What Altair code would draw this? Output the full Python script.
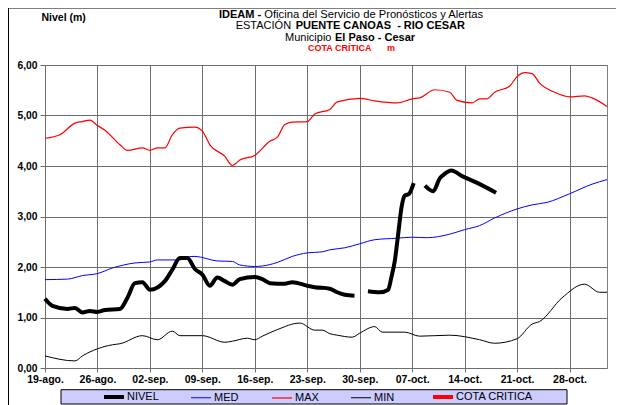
import altair as alt
import pandas as pd

# ---------------- data ----------------
etiquetas_x = ["19-ago.", "26-ago.", "02-sep.", "09-sep.", "16-sep.", "23-sep.",
               "30-sep.", "07-oct.", "14-oct.", "21-oct.", "28-oct."]
dias_ticks = [0, 7, 14, 21, 28, 35, 42, 49, 56, 63, 70]
series = ["NIVEL", "MED", "MAX", "MIN", "COTA CRITICA"]
colores = ["#000000", "#0000ff", "#ff0000", "#000000", "#ff0000"]
grosores = [4, 1, 1.2, 1, 4]

max_dias = [0, 2, 4, 5, 6, 7, 8, 10, 11, 13, 14, 15, 16, 17, 18, 20, 21, 22, 24, 25, 26,
            28, 30, 31, 32, 33, 35, 36, 38, 39, 42, 44, 47, 49, 50, 52, 54, 55, 57, 58,
            59, 60, 62, 63, 64, 65, 66, 68, 70, 72, 73, 75]
max_vals = [4.55, 4.62, 4.85, 4.88, 4.91, 4.80, 4.71, 4.42, 4.31, 4.36, 4.31, 4.36, 4.36,
            4.62, 4.75, 4.77, 4.69, 4.42, 4.19, 4.01, 4.12, 4.21, 4.49, 4.57, 4.82, 4.87,
            4.88, 5.03, 5.12, 5.27, 5.34, 5.29, 5.25, 5.33, 5.35, 5.51, 5.46, 5.30, 5.25,
            5.33, 5.33, 5.46, 5.58, 5.77, 5.85, 5.83, 5.64, 5.46, 5.37, 5.39, 5.35, 5.18]

med_dias = [0, 3, 5, 7, 9, 12, 14, 15, 18, 19, 20, 23, 25, 26, 28, 29, 31, 33, 35, 37, 38,
            40, 42, 44, 47, 49, 51, 54, 56, 58, 60, 63, 65, 67, 70, 73, 75]
med_vals = [1.75, 1.76, 1.83, 1.87, 1.98, 2.08, 2.10, 2.14, 2.14, 2.20, 2.21, 2.12, 2.11,
            2.04, 2.01, 2.02, 2.09, 2.21, 2.28, 2.30, 2.34, 2.38, 2.46, 2.54, 2.57, 2.59,
            2.58, 2.65, 2.74, 2.82, 2.97, 3.15, 3.23, 3.28, 3.45, 3.64, 3.73]

min_dias = [0, 4, 5, 7, 9, 10, 13, 15, 17, 18, 21, 24, 25, 27, 28, 29, 31, 34, 36, 37, 38,
            39, 41, 42, 44, 45, 48, 50, 54, 58, 60, 63, 65, 66, 69, 72, 74, 75]
min_vals = [0.24, 0.14, 0.24, 0.38, 0.46, 0.48, 0.64, 0.56, 0.73, 0.64, 0.64, 0.51, 0.53,
            0.59, 0.56, 0.63, 0.76, 0.89, 0.75, 0.75, 0.68, 0.65, 0.61, 0.69, 0.82, 0.71,
            0.71, 0.63, 0.65, 0.56, 0.49, 0.58, 0.87, 0.92, 1.39, 1.66, 1.50, 1.50]

nivel_dias_1 = [0, 1, 3, 4, 5, 6, 7, 8, 10, 11, 12, 13, 14, 16, 17, 18, 19, 20, 21, 22, 23,
                24, 25, 26, 28, 29, 30, 32, 33, 35, 36, 38, 39, 40, 41.3]
nivel_vals_1 = [1.37, 1.23, 1.17, 1.19, 1.10, 1.13, 1.11, 1.15, 1.17, 1.39, 1.68, 1.70,
                1.55, 1.72, 1.95, 2.18, 2.18, 1.96, 1.85, 1.63, 1.79, 1.72, 1.65, 1.76,
                1.80, 1.76, 1.68, 1.67, 1.70, 1.63, 1.60, 1.57, 1.50, 1.45, 1.43]
nivel_dias_2 = [43.1, 44.7, 45.8, 46.2, 46.7, 47.1, 47.6, 48.0, 48.6, 49.2]
nivel_vals_2 = [1.52, 1.50, 1.55, 1.78, 2.14, 2.61, 3.20, 3.41, 3.45, 3.66]
nivel_dias_3 = [50.7, 51.8, 52.7, 53.3, 54.2, 55.8, 57.6, 60.2]
nivel_vals_3 = [3.61, 3.50, 3.76, 3.84, 3.91, 3.79, 3.67, 3.47]

# ---------------- table ----------------
filas = []
def agregar(serie, tramo, dias, vals):
    for d, v in zip(dias, vals):
        filas.append({"dia": d, "valor": v, "serie": serie, "tramo": tramo})

agregar("MIN", "min", min_dias, min_vals)
agregar("MED", "med", med_dias, med_vals)
agregar("MAX", "max", max_dias, max_vals)
agregar("NIVEL", "n1", nivel_dias_1, nivel_vals_1)
agregar("NIVEL", "n2", nivel_dias_2, nivel_vals_2)
agregar("NIVEL", "n3", nivel_dias_3, nivel_vals_3)
df = pd.DataFrame(filas)

FONT = "Liberation Sans"
GRID = "#6e6e6e"

labels_js = "[" + ",".join("'%s'" % s for s in etiquetas_x) + "]"

x_enc = alt.X("dia:Q",
              scale=alt.Scale(domain=[0, 75], nice=False, zero=False),
              axis=alt.Axis(values=dias_ticks, title=None, grid=True, gridColor=GRID,
                            gridOpacity=1, domain=False, tickColor=GRID, tickSize=4,
                            labelPadding=2, labelFont=FONT, labelFontSize=10.5,
                            labelFontWeight="bold", labelColor="#000", labelOverlap=False,
                            labelFlush=False,
                            labelExpr=labels_js + "[round(datum.value/7)]"))
y_enc = alt.Y("valor:Q",
              scale=alt.Scale(domain=[0, 6], nice=False),
              axis=alt.Axis(values=[0, 1, 2, 3, 4, 5, 6], title=None, grid=True,
                            gridColor=GRID, gridOpacity=1, domain=False, tickColor=GRID,
                            tickSize=5, labelPadding=3, labelFont=FONT, labelFontSize=10.3,
                            labelFontWeight="bold", labelColor="#000", labelOverlap=False,
                            labelFlush=False,
                            labelExpr="replace(format(datum.value, '.2f'), '.', ',')"))

leyenda = alt.Legend(orient="none", legendX=57, legendY=320, direction="horizontal",
                     columns=5, title=None, symbolType="stroke", symbolSize=400,
                     labelFont=FONT, labelFontSize=11, labelColor="#000", labelOffset=1,
                     columnPadding=30, symbolOpacity=1)

lineas = alt.Chart(df).mark_line(interpolate="monotone").encode(
    x=x_enc, y=y_enc,
    color=alt.Color("serie:N", scale=alt.Scale(domain=series, range=colores), legend=leyenda),
    strokeWidth=alt.StrokeWidth("serie:N",
                                scale=alt.Scale(type="ordinal", domain=series, range=grosores),
                                legend=leyenda),
    detail="tramo:N",
)

uno = pd.DataFrame({"k": [0]})

marco = alt.Chart(uno).mark_rect(fill=None, stroke="#000", strokeWidth=1).encode(
    x=alt.value(-36.5), x2=alt.value(700), y=alt.value(-57.0), y2=alt.value(500))

caja_leyenda = alt.Chart(uno).mark_rect(fill="#ccccff", stroke="#000", strokeWidth=1).encode(
    x=alt.value(16), x2=alt.value(522), y=alt.value(324.7), y2=alt.value(339))

def texto(t, x, y, size=11, weight="normal", color="#000"):
    return alt.Chart(pd.DataFrame({"t": [t]})).mark_text(
        align="left", baseline="middle", font=FONT, fontSize=size, fontWeight=weight,
        color=color).encode(text="t:N", x=alt.value(x), y=alt.value(y))

textos = [
    texto("Nivel (m)", -3.5, -47.0, 10.5, "bold"),
    texto("IDEAM -", 174, -49.6, 11, "bold"),
    texto("Oficina del Servicio de Pronósticos y Alertas", 219.3, -49.6, 11.2),
    texto("ESTACIÓN", 190.7, -39.0),
    texto("PUENTE CANOAS\u00a0\u00a0- RIO CESAR", 250.7, -39.0, 11, "bold"),
    texto("Municipio", 240, -26.6),
    texto("El Paso - Cesar", 290, -26.6, 11, "bold"),
    texto("COTA CRÍTICA", 263, -17.0, 9, "bold", "#ff0000"),
    texto("m", 342, -17.0, 9, "bold", "#ff0000"),
]

chart = alt.layer(marco, caja_leyenda, lineas, *textos).properties(
    width=562, height=303,
    autosize=alt.AutoSizeParams(type="none"),
    padding={"left": 37, "top": 57, "right": 9, "bottom": 37},
    background="#ffffff",
).configure_view(stroke="#808080", strokeWidth=1)

chart.save("out.html", embed_options={"renderer": "svg", "actions": False})
